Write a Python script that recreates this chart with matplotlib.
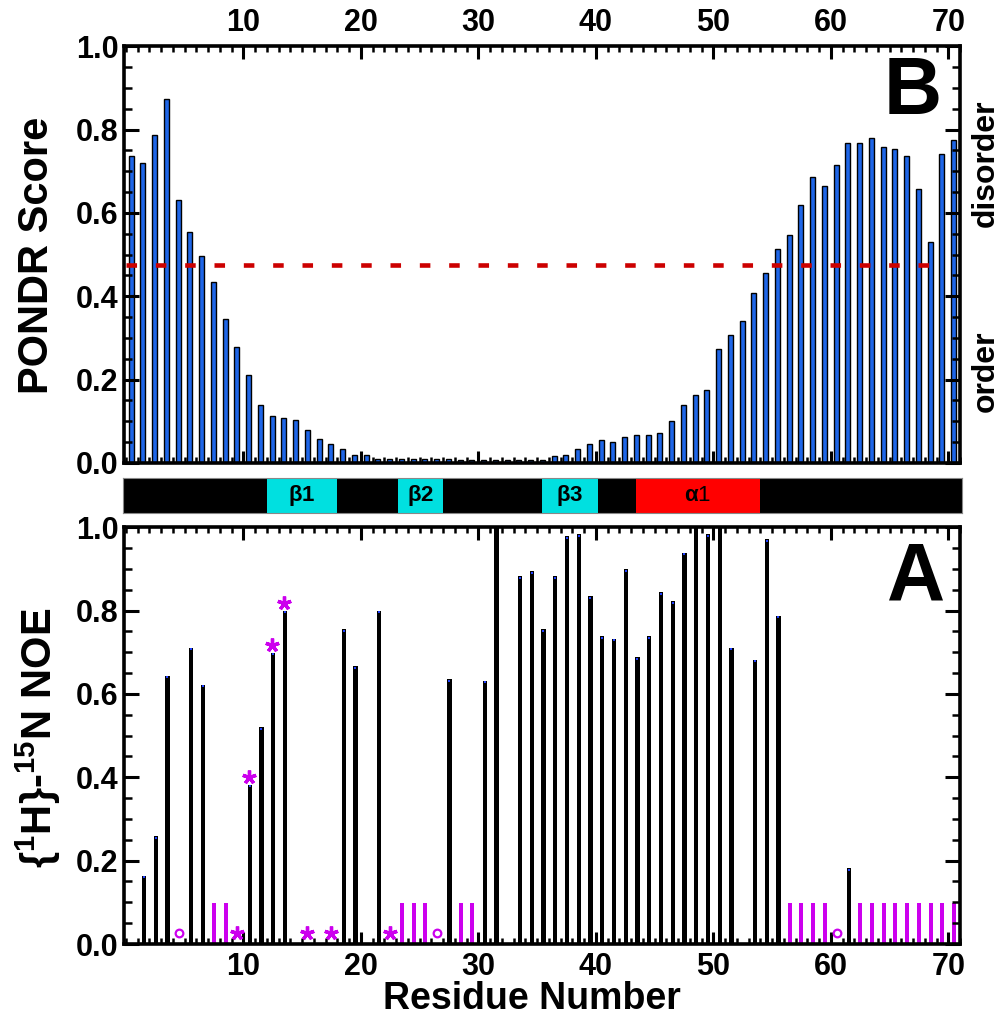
import matplotlib
matplotlib.use('Agg')
import matplotlib.pyplot as plt
from matplotlib.ticker import MultipleLocator, FormatStrFormatter

plt.rcParams['font.family'] = ['Liberation Sans', 'DejaVu Sans']
plt.rcParams['font.weight'] = 'bold'
plt.rcParams['mathtext.fontset'] = 'custom'
plt.rcParams['mathtext.rm'] = 'Liberation Sans:bold'
plt.rcParams['mathtext.bf'] = 'Liberation Sans:bold'
plt.rcParams['mathtext.it'] = 'Liberation Sans'

# ---------------- data ----------------
residues = list(range(1, 72))
pondr = [0.736, 0.72, 0.786, 0.874, 0.63, 0.554, 0.497, 0.435, 0.346, 0.279,
         0.212, 0.14, 0.113, 0.107, 0.102, 0.08, 0.057, 0.046, 0.034, 0.02,
         0.018, 0.01, 0.01, 0.01, 0.01, 0.01, 0.01, 0.01, 0.006, 0.006,
         0.006, 0.006, 0.006, 0.006, 0.006, 0.008, 0.016, 0.018, 0.034, 0.046,
         0.056, 0.05, 0.062, 0.068, 0.068, 0.072, 0.1, 0.14, 0.162, 0.174,
         0.274, 0.307, 0.341, 0.408, 0.457, 0.514, 0.546, 0.619, 0.686, 0.664,
         0.714, 0.769, 0.769, 0.78, 0.758, 0.753, 0.736, 0.657, 0.53, 0.742,
         0.774]
threshold = 0.474
threshold_x = [0.0, 69.7]

noe_res = [2, 3, 4, 6, 7, 11, 12, 13, 14, 19, 20, 22, 28, 31, 32, 34, 35, 36,
           37, 38, 39, 40, 41, 42, 43, 44, 45, 46, 47, 48, 49, 50, 51, 52, 54,
           55, 56, 62]
noe_val = [0.164, 0.259, 0.644, 0.711, 0.622, 0.382, 0.521, 0.699, 0.8, 0.756,
           0.667, 0.8, 0.636, 0.632, 1.05, 0.882, 0.894, 0.755, 0.883, 0.978,
           0.983, 0.834, 0.738, 0.733, 0.899, 0.688, 0.738, 0.844, 0.822, 0.939,
           1.05, 0.983, 1.05, 0.711, 0.682, 0.972, 0.788, 0.182]

magenta_res = [8, 9, 24, 25, 26, 29, 30, 57, 58, 59, 60, 63, 64, 65, 66, 67,
               68, 69, 70, 71]
magenta_val = 0.098

star_res = [10, 11, 13, 14, 16, 18, 23]
star_val = [0.026, 0.4, 0.718, 0.818, 0.026, 0.026, 0.026]
circle_res = [5, 27, 61]
circle_val = [0.026, 0.026, 0.026]

ss_labels = ['$\\beta$1', '$\\beta$2', '$\\beta$3', '$\\alpha$1']
ss_start = [12.0, 23.2, 35.4, 43.4]
ss_end = [18.0, 27.0, 40.2, 54.0]
ss_colors = ['#00E0E0', '#00E0E0', '#00E0E0', '#FF0000']
ss_weights = ['bold', 'bold', 'bold', 'normal']

xticks = [10, 20, 30, 40, 50, 60, 70]

BLUE = '#1F66E8'
MAG = '#CC00EE'

# ---------------- figure ----------------
W, H = 1001, 1017
fig = plt.figure(figsize=(W / 100, H / 100), dpi=100)
ax_top = fig.add_axes([124 / W, 1 - 463 / H, 836 / W, 416.7 / H])
ax_ss = fig.add_axes([123 / W, 1 - 513 / H, 839 / W, 35 / H])
ax_bot = fig.add_axes([124 / W, 1 - 944 / H, 836 / W, 416.7 / H])


def style(ax):
    ax.set_xlim(-0.15, 71.0)
    ax.set_ylim(0, 1.0)
    ax.set_xticks(xticks)
    ax.xaxis.set_minor_locator(MultipleLocator(1))
    ax.yaxis.set_major_locator(MultipleLocator(0.2))
    ax.yaxis.set_minor_locator(MultipleLocator(0.05))
    ax.yaxis.set_major_formatter(FormatStrFormatter('%.1f'))
    ax.tick_params(which='both', direction='in', top=True, right=True,
                   bottom=True, left=True, labelsize=22, pad=6)
    ax.tick_params(axis='x', which='major', length=9, width=2.2)
    ax.tick_params(axis='x', which='minor', length=4, width=1.8)
    ax.tick_params(axis='y', which='major', length=11, width=2.2, pad=4)
    ax.tick_params(axis='y', which='minor', length=5.5, width=1.8)
    for s in ax.spines.values():
        s.set_linewidth(2.6)
        s.set_zorder(5)


# top panel: PONDR
style(ax_top)
ax_top.tick_params(axis='x', labeltop=True, labelbottom=False)
ax_top.bar([r - 0.55 for r in residues], pondr, width=0.42, color=BLUE,
           edgecolor='black', linewidth=1.0, zorder=1)
ax_top.plot(threshold_x, [threshold, threshold], color='#CC0000', lw=3.3,
            dashes=(2.3, 4.1), solid_capstyle='butt', zorder=2)
ax_top.text(0.943, 0.888, 'B', transform=ax_top.transAxes, fontsize=58,
            fontweight='bold', ha='center', va='center')
ax_top.text(1.031, 0.72, 'disorder', transform=ax_top.transAxes, fontsize=23,
            fontweight='bold', rotation=90, ha='center', va='center')
ax_top.text(1.031, 0.22, 'order', transform=ax_top.transAxes, fontsize=23,
            fontweight='bold', rotation=90, ha='center', va='center')

# secondary structure bar
ax_ss.set_xlim(-0.24, 71.17)
ax_ss.set_ylim(0, 1)
ax_ss.set_facecolor('black')
ax_ss.set_xticks([])
ax_ss.set_yticks([])
for s in ax_ss.spines.values():
    s.set_linewidth(0.8)
    s.set_color('#888888')
for lab, a, b, c, w in zip(ss_labels, ss_start, ss_end, ss_colors, ss_weights):
    ax_ss.axvspan(a, b, color=c, lw=0)
    ax_ss.text((a + b) / 2, 0.5, lab, ha='center', va='center', fontsize=16,
               fontweight=w, color='black')

# bottom panel: NOE
style(ax_bot)
ax_bot.bar([r - 0.45 for r in noe_res], noe_val, width=0.36, color='black',
           linewidth=0, zorder=1)
cap_x = [r - 0.45 for r, v in zip(noe_res, noe_val) if v < 1.0]
cap_y = [v - 0.004 for v in noe_val if v < 1.0]
ax_bot.scatter(cap_x, cap_y, marker='s', s=3, color='#2040FF', linewidths=0,
               zorder=3)
ax_bot.bar([r - 0.5 for r in magenta_res], [magenta_val] * len(magenta_res),
           width=0.36, color=MAG, linewidth=0, zorder=1)
ax_bot.plot([r - 0.55 for r in star_res], star_val, linestyle='none',
            marker=(5, 2, 0), markersize=10, markeredgewidth=2.4, color=MAG,
            zorder=3)
ax_bot.plot([r - 0.5 for r in circle_res], circle_val, linestyle='none',
            marker='o', markersize=5.5, markerfacecolor='none',
            markeredgewidth=1.6, markeredgecolor=MAG, zorder=3)
ax_bot.text(0.948, 0.876, 'A', transform=ax_bot.transAxes, fontsize=58,
            fontweight='bold', ha='center', va='center')

# axis labels
fig.text(37 / W, 1 - 255 / H, 'PONDR Score', rotation=90, ha='center',
         va='center', fontsize=30, fontweight='bold')
fig.text(38 / W, 1 - 738 / H, '$\\{^{1}$H$\\}$-$^{15}$N NOE', rotation=90,
         ha='center', va='center', fontsize=30, fontweight='bold')
fig.text(532 / W, 1 - 1009 / H, 'Residue Number', ha='center',
         va='baseline', fontsize=27, fontweight='bold')

fig.savefig('out.png', dpi=100)
